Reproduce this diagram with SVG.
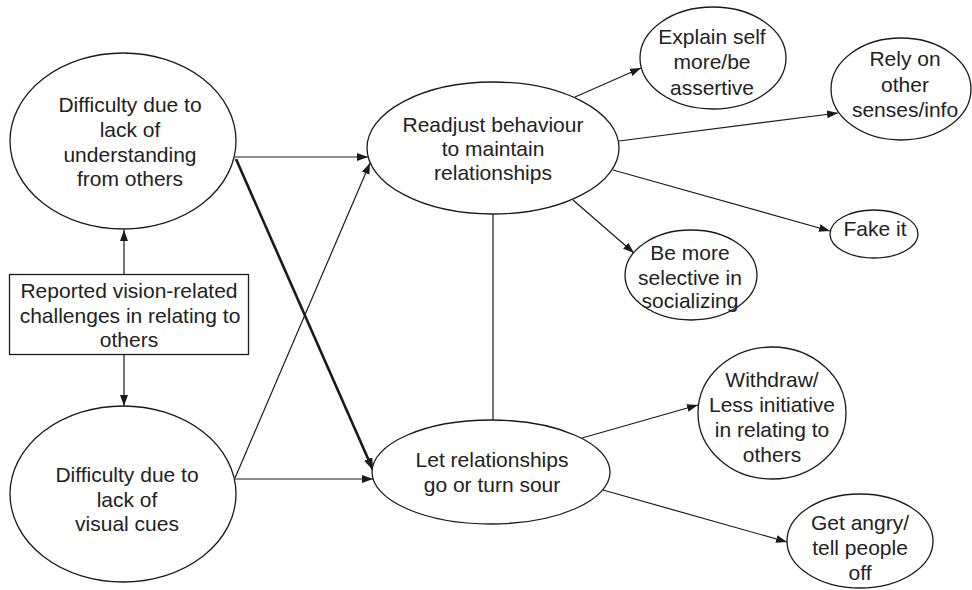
<svg xmlns="http://www.w3.org/2000/svg" width="972" height="590" viewBox="0 0 972 590">
<style>
.n{fill:#fff;stroke:#1a1a1a;stroke-width:1.3}
.t{font-family:"Liberation Sans",Arial,sans-serif;font-size:21px;fill:#222;text-anchor:middle}
.c{fill:none;stroke:#1a1a1a;stroke-width:1.2}
.k{fill:none;stroke:#1a1a1a;stroke-width:2.6}
</style>
<defs>
<marker id="a" markerUnits="userSpaceOnUse" markerWidth="12" markerHeight="9" refX="11" refY="4" orient="auto">
<path d="M0,0 L11,4 L0,8 z" fill="#1a1a1a"/>
</marker>
<marker id="b" markerUnits="userSpaceOnUse" markerWidth="14" markerHeight="10" refX="12" refY="4.5" orient="auto">
<path d="M0,0 L12,4.5 L0,9 z" fill="#1a1a1a"/>
</marker>
</defs>
<g id="connectors">
<line class="c" x1="124" y1="274" x2="124" y2="230" marker-end="url(#a)"/>
<line class="c" x1="124" y1="355" x2="124" y2="406" marker-end="url(#a)"/>
<line class="c" x1="235" y1="157" x2="368" y2="157" marker-end="url(#a)"/>
<line class="k" x1="236" y1="159" x2="373" y2="470" marker-end="url(#b)"/>
<line class="c" x1="235" y1="478" x2="370" y2="163" marker-end="url(#a)"/>
<line class="c" x1="235" y1="479" x2="373" y2="479" marker-end="url(#a)"/>
<line class="c" x1="575" y1="97" x2="641" y2="68" marker-end="url(#a)"/>
<line class="c" x1="619" y1="141" x2="838" y2="113" marker-end="url(#a)"/>
<line class="c" x1="613" y1="170" x2="830" y2="231" marker-end="url(#a)"/>
<line class="c" x1="573" y1="200" x2="634" y2="253" marker-end="url(#a)"/>
<line class="c" x1="493" y1="214" x2="493" y2="420"/>
<line class="c" x1="582" y1="438" x2="698" y2="405" marker-end="url(#a)"/>
<line class="c" x1="603" y1="490" x2="787" y2="542" marker-end="url(#a)"/>
</g>
<g id="box">
<rect class="n" x="9.5" y="274.5" width="239" height="80"/>
<text class="t" x="129"><tspan x="129" y="298">Reported vision-related</tspan><tspan x="130" y="322.5">challenges in relating to</tspan><tspan x="129" y="347">others</tspan></text>
</g>
<g id="understanding">
<ellipse class="n" cx="123" cy="141" rx="113" ry="88"/>
<text class="t"><tspan x="130" y="112">Difficulty due to</tspan><tspan x="130" y="137">lack of</tspan><tspan x="130" y="162">understanding</tspan><tspan x="130" y="186">from others</tspan></text>
</g>
<g id="visual">
<ellipse class="n" cx="123" cy="494" rx="113" ry="88"/>
<text class="t"><tspan x="127" y="482">Difficulty due to</tspan><tspan x="127" y="506.5">lack of</tspan><tspan x="127" y="531">visual cues</tspan></text>
</g>
<g id="readjust">
<ellipse class="n" cx="493" cy="148" rx="126" ry="66"/>
<text class="t"><tspan x="493" y="132">Readjust behaviour</tspan><tspan x="493" y="156">to maintain</tspan><tspan x="493" y="180">relationships</tspan></text>
</g>
<g id="letgo">
<ellipse class="n" cx="491" cy="472" rx="119" ry="52"/>
<text class="t"><tspan x="492" y="467">Let relationships</tspan><tspan x="492" y="491.5">go or turn sour</tspan></text>
</g>
<g id="explain">
<ellipse class="n" cx="713" cy="58" rx="73" ry="51"/>
<text class="t"><tspan x="712" y="44">Explain self</tspan><tspan x="712" y="69">more/be</tspan><tspan x="712" y="95">assertive</tspan></text>
</g>
<g id="rely">
<ellipse class="n" cx="901" cy="89" rx="70" ry="51"/>
<text class="t"><tspan x="905" y="66">Rely on</tspan><tspan x="905" y="92">other</tspan><tspan x="905" y="117">senses/info</tspan></text>
</g>
<g id="fake">
<ellipse class="n" cx="874" cy="234" rx="44" ry="24"/>
<text class="t" x="875" y="236">Fake it</text>
</g>
<g id="selective">
<ellipse class="n" cx="691" cy="275" rx="66" ry="45"/>
<text class="t"><tspan x="690" y="260">Be more</tspan><tspan x="690" y="285">selective in</tspan><tspan x="690" y="308">socializing</tspan></text>
</g>
<g id="withdraw">
<ellipse class="n" cx="772" cy="413" rx="74" ry="66"/>
<text class="t"><tspan x="772" y="387">Withdraw/</tspan><tspan x="772" y="412">Less initiative</tspan><tspan x="772" y="437">in relating to</tspan><tspan x="772" y="462">others</tspan></text>
</g>
<g id="angry">
<ellipse class="n" cx="860" cy="541" rx="73" ry="47"/>
<text class="t"><tspan x="860" y="530">Get angry/</tspan><tspan x="860" y="555">tell people</tspan><tspan x="860" y="580">off</tspan></text>
</g>
</svg>
